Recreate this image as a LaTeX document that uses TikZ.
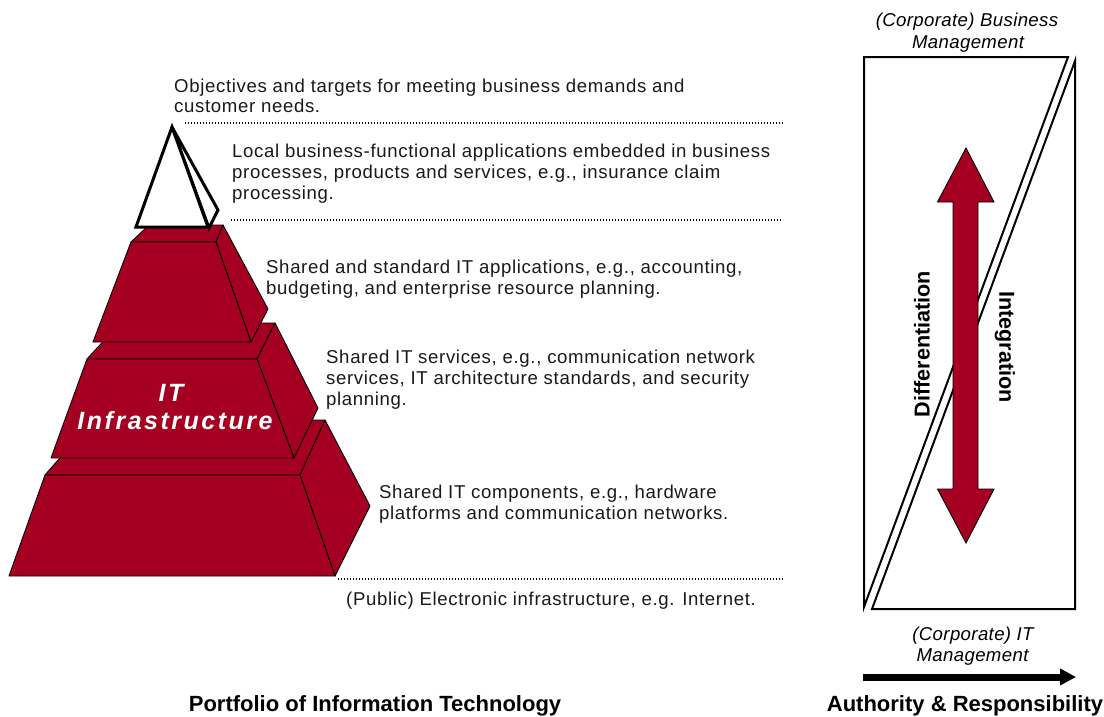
\documentclass[tikz,border=0pt]{standalone}
\usepackage{fontspec}
\setmainfont{Liberation Sans}
\newfontfamily\bodyfont[LetterSpace=3.5]{Liberation Sans}
\newfontfamily\infrafont[LetterSpace=10]{Liberation Sans}
\newfontfamily\cornerfont[LetterSpace=2]{Liberation Sans}
\usetikzlibrary{arrows.meta}
\definecolor{itred}{RGB}{165,0,33}
\tikzset{
  body/.style={anchor=base west, inner sep=0pt, text=black!90, font=\bodyfont\fontsize{18.6}{21}\selectfont},
  corner/.style={anchor=base, inner sep=0pt, font=\cornerfont\itshape\fontsize{18.6}{21}\selectfont},
  title/.style={anchor=base, inner sep=0pt, font=\bfseries\fontsize{22}{24}\selectfont},
  sidelabel/.style={inner sep=0pt, font=\bfseries\fontsize{21.6}{24}\selectfont},
  infra/.style={anchor=base, inner sep=0pt, text=white, font=\infrafont\bfseries\itshape\fontsize{25}{28}\selectfont},
  layer/.style={fill=itred, draw=black, line width=0.9pt, line join=round},
  apex/.style={fill=white, draw=black, line width=3pt, line join=miter},
  guide/.style={draw=black, line width=1.6pt, dash pattern=on 1.2pt off 1.8pt},
  panel/.style={fill=white, draw=black, line width=2pt, line join=miter},
  bigarrow/.style={fill=itred, draw=black, line width=0.9pt, line join=miter},
  axisarrow/.style={line width=7pt, -{Triangle[length=16pt,width=16pt]}},
}
\begin{document}
\begin{tikzpicture}[x=1pt,y=-1pt]
\useasboundingbox (0,0) rectangle (1104,716);

% ---------- pyramid: bottom layer ----------
\draw[layer] (45,475) -- (93,420) -- (325,420) -- (300,475) -- cycle;
\draw[layer] (300,475) -- (325,420) -- (370,506) -- (335,576) -- cycle;
\draw[layer] (45,475) -- (300,475) -- (335,576) -- (9,576) -- cycle;
% middle layer
\draw[layer] (87,359) -- (120,323) -- (275,323) -- (257,359) -- cycle;
\draw[layer] (257,359) -- (275,323) -- (318,408) -- (294,458) -- cycle;
\draw[layer] (87,359) -- (257,359) -- (294,458) -- (51,458) -- cycle;
% top layer
\draw[layer] (131,242) -- (149,225) -- (223,225) -- (216,242) -- cycle;
\draw[layer] (216,242) -- (223,225) -- (268,309) -- (251,342) -- cycle;
\draw[layer] (131,242) -- (216,242) -- (251,342) -- (93,342) -- cycle;
% white apex
\draw[apex] (172,127) -- (218,210) -- (209,228) -- cycle;
\draw[apex] (172,127) -- (136,227) -- (208,227) -- cycle;

\node[infra] (itA) at (171,401.5) {IT};
\node[infra] (itB) at (175,429.3) {Infrastructure};

% ---------- dotted guides ----------
\coordinate (g1a) at (185,123); \coordinate (g1b) at (783,123);
\coordinate (g2a) at (231,220); \coordinate (g2b) at (783,220);
\coordinate (g3a) at (338,579); \coordinate (g3b) at (783,579);
\draw[guide] (g1a) -- (g1b);
\draw[guide] (g2a) -- (g2b);
\draw[guide] (g3a) -- (g3b);

% ---------- descriptions ----------
\node[body] (t1a) at (174,92)  {Objectives and targets for meeting business demands and};
\node[body] (t1b) at (174,112) {customer needs.};
\node[body] (t2a) at (232,157) {Local business-functional applications embedded in business};
\node[body] (t2b) at (232,178) {processes, products and services, e.g., insurance claim};
\node[body] (t2c) at (232,199) {processing.};
\node[body] (t3a) at (266,273) {Shared and standard IT applications, e.g., accounting,};
\node[body] (t3b) at (266,294) {budgeting, and enterprise resource planning.};
\node[body] (t4a) at (326,363) {Shared IT services, e.g., communication network};
\node[body] (t4b) at (326,384) {services, IT architecture standards, and security};
\node[body] (t4c) at (326,405) {planning.};
\node[body] (t5a) at (379,498) {Shared IT components, e.g., hardware};
\node[body] (t5b) at (379,519) {platforms and communication networks.};
\node[body] (t6)  at (346,605) {(Public) Electronic infrastructure, e.g. Internet.};

% ---------- right panel ----------
\draw[panel] (864,57) -- (1068,57) -- (864,607) -- cycle;
\draw[panel] (1075,61) -- (1075,609) -- (872,609) -- cycle;

\draw[bigarrow] (966,148) -- (994,202) -- (978,202) -- (978,489) -- (994,489)
  -- (966,543) -- (937.5,489) -- (953,489) -- (953,202) -- (937.5,202) -- cycle;

\node[sidelabel, rotate=90]  (diff) at (922,344) {Differentiation};
\node[sidelabel, rotate=-90] (integ) at (1005,347) {Integration};

\node[corner] (cbA) at (967,26.5) {(Corporate) Business};
\node[corner] (cbB) at (968,48) {Management};
\node[corner] (ciA) at (973,640) {(Corporate) IT};
\node[corner] (ciB) at (972.5,661) {Management};

\coordinate (axS) at (863,677);
\coordinate (axE) at (1076,677);
\draw[axisarrow] (axS) -- (axE);

% ---------- titles ----------
\node[title] (ptitle) at (375,711) {Portfolio of Information Technology};
\node[title] (atitle) at (965,711) {Authority \& Responsibility};
\end{tikzpicture}
\end{document}
